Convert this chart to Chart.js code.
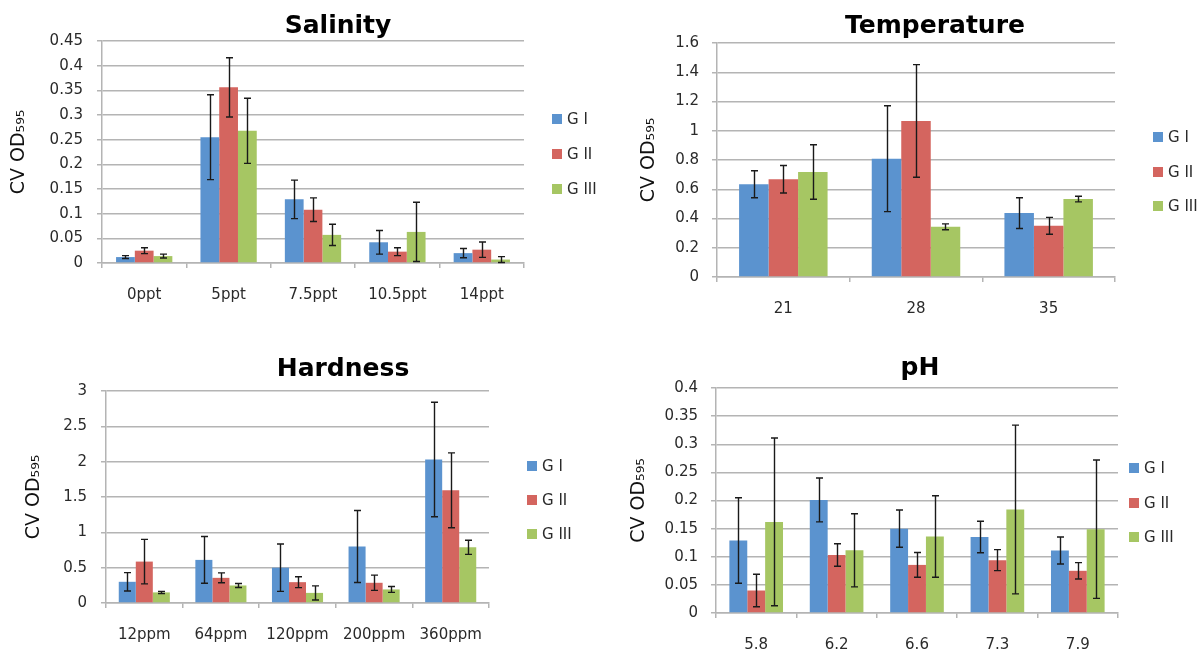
<!DOCTYPE html>
<html>
<head>
<meta charset="utf-8">
<script src="https://cdn.jsdelivr.net/npm/chart.js@4.4.1/dist/chart.umd.min.js"></script>
<style>
    body { margin: 0; background: #fff; width: 1204px; height: 655px; overflow: hidden; position: relative; }
    canvas { position: absolute; }
</style>
</head>
<body>
<canvas id="salinityChart" width="600" height="320" style="left:0;top:0"></canvas>
<canvas id="temperatureChart" width="604" height="320" style="left:600px;top:0"></canvas>
<canvas id="hardnessChart" width="600" height="325" style="left:0;top:330px"></canvas>
<canvas id="phChart" width="604" height="325" style="left:600px;top:330px"></canvas>
<script>
// Groups shared by all four panels
const groupLabels = ['G I', 'G II', 'G III'];
const groupColors = ['#5B93CF', '#D4655F', '#A6C663'];

// Salinity
const salinityLabels = ['0ppt', '5ppt', '7.5ppt', '10.5ppt', '14ppt'];
const salinityG1 = [0.012, 0.255, 0.129, 0.042, 0.020];
const salinityG2 = [0.025, 0.356, 0.108, 0.023, 0.027];
const salinityG3 = [0.014, 0.268, 0.057, 0.063, 0.007];
const salinityErrG1 = [0.003, 0.086, 0.039, 0.024, 0.0095];
const salinityErrG2 = [0.006, 0.060, 0.024, 0.008, 0.0155];
const salinityErrG3 = [0.004, 0.066, 0.0215, 0.060, 0.006];

// Temperature
const temperatureLabels = ['21', '28', '35'];
const temperatureG1 = [0.634, 0.809, 0.437];
const temperatureG2 = [0.668, 1.067, 0.350];
const temperatureG3 = [0.718, 0.343, 0.533];
const temperatureErrG1 = [0.092, 0.362, 0.105];
const temperatureErrG2 = [0.094, 0.385, 0.058];
const temperatureErrG3 = [0.186, 0.020, 0.019];

// Hardness
const hardnessLabels = ['12ppm', '64ppm', '120ppm', '200ppm', '360ppm'];
const hardnessG1 = [0.30, 0.61, 0.50, 0.80, 2.03];
const hardnessG2 = [0.586, 0.356, 0.295, 0.286, 1.594];
const hardnessG3 = [0.15, 0.248, 0.143, 0.192, 0.788];
const hardnessErrG1 = [0.13, 0.33, 0.335, 0.51, 0.81];
const hardnessErrG2 = [0.315, 0.07, 0.077, 0.108, 0.53];
const hardnessErrG3 = [0.015, 0.028, 0.10, 0.042, 0.10];

// pH
const phLabels = ['5.8', '6.2', '6.6', '7.3', '7.9'];
const phG1 = [0.129, 0.201, 0.150, 0.135, 0.111];
const phG2 = [0.040, 0.103, 0.0855, 0.094, 0.075];
const phG3 = [0.162, 0.1115, 0.136, 0.184, 0.149];
const phErrG1 = [0.076, 0.039, 0.033, 0.028, 0.024];
const phErrG2 = [0.029, 0.020, 0.022, 0.0186, 0.0145];
const phErrG3 = [0.149, 0.065, 0.0725, 0.150, 0.123];

const FONT = "'DejaVu Sans', sans-serif";
const gridColor = '#b4b4b4';
const textColor = '#2a2a2a';

/**
 * Error bars: vertical whiskers with caps, drawn from the y scale
 */
const errorBarPlugin = {
    id: 'errorBars',
    afterDatasetsDraw(chart) {
        const ctx = chart.ctx;
        const yScale = chart.scales.y;
        ctx.save();
        ctx.strokeStyle = '#1a1a1a';
        ctx.lineWidth = 1.4;
        chart.data.datasets.forEach((ds, i) => {
            const meta = chart.getDatasetMeta(i);
            meta.data.forEach((bar, j) => {
                const v = ds.data[j];
                const e = ds.errors[j];
                const yTop = yScale.getPixelForValue(v + e);
                const yBot = yScale.getPixelForValue(Math.max(v - e, 0));
                const x = Math.round(bar.x) + 0.5;
                ctx.beginPath();
                ctx.moveTo(x, yTop);
                ctx.lineTo(x, yBot);
                ctx.moveTo(x - 3.5, yTop);
                ctx.lineTo(x + 3.5, yTop);
                ctx.moveTo(x - 3.5, yBot);
                ctx.lineTo(x + 3.5, yBot);
                ctx.stroke();
            });
        });
        ctx.restore();
    }
};

/**
 * Panel title and the side legend (placed like the Excel original)
 */
const panelDecorPlugin = {
    id: 'panelDecor',
    afterDraw(chart, args, opts) {
        const ctx = chart.ctx;
        ctx.save();
        ctx.fillStyle = '#000';
        ctx.font = `bold 25px ${FONT}`;
        ctx.textAlign = 'center';
        ctx.textBaseline = 'alphabetic';
        ctx.fillText(opts.title, opts.titleX, opts.titleY);

        ctx.font = `15px ${FONT}`;
        ctx.textAlign = 'left';
        ctx.textBaseline = 'middle';
        chart.data.datasets.forEach((ds, i) => {
            const cy = opts.legendY[i];
            ctx.fillStyle = ds.backgroundColor;
            ctx.fillRect(opts.legendX, cy - 5, 10, 10);
            ctx.fillStyle = textColor;
            ctx.fillText(ds.label, opts.legendX + 15, cy + 1);
        });
        ctx.restore();
    }
};

/**
 * Build one grouped bar panel
 */
function buildPanel(id, cfg) {
    const canvas = document.getElementById(id);
    const ctx = canvas.getContext('2d');
    return new Chart(ctx, {
        type: 'bar',
        data: {
            labels: cfg.labels,
            datasets: cfg.series.map((vals, i) => ({
                label: groupLabels[i],
                data: vals,
                errors: cfg.errors[i],
                backgroundColor: groupColors[i],
                borderWidth: 0,
                categoryPercentage: 0.667,
                barPercentage: 1.0
            }))
        },
        options: {
            responsive: false,
            animation: false,
            layout: {
                padding: { left: 0, top: cfg.area.top, right: canvas.width - cfg.area.right, bottom: 0 }
            },
            plugins: {
                legend: { display: false },
                tooltip: { enabled: false },
                panelDecor: cfg.decor
            },
            scales: {
                x: {
                    grid: { drawOnChartArea: false, tickLength: 5, color: gridColor, lineWidth: 1.5 },
                    border: { color: gridColor, width: 1.5 },
                    ticks: { padding: 18, color: textColor, font: { family: FONT, size: 15 } },
                    afterFit: s => { s.height = canvas.height - cfg.area.bottom; }
                },
                y: {
                    min: 0,
                    max: cfg.max,
                    ticks: {
                        stepSize: cfg.step,
                        padding: cfg.tickPad,
                        color: textColor,
                        font: { family: FONT, size: 15 },
                        callback: v => String(+v.toFixed(3))
                    },
                    grid: { color: gridColor, lineWidth: 1.5, tickLength: 5 },
                    border: { color: gridColor, width: 1.5 },
                    title: {
                        display: true,
                        text: 'CV OD₅₉₅',
                        color: '#111',
                        font: { family: FONT, size: 19 },
                        padding: { top: cfg.titlePad, bottom: 0 }
                    },
                    afterFit: s => { s.width = cfg.area.left; }
                }
            }
        },
        plugins: [errorBarPlugin, panelDecorPlugin]
    });
}

document.addEventListener('DOMContentLoaded', function() {
    buildPanel('salinityChart', {
        labels: salinityLabels,
        series: [salinityG1, salinityG2, salinityG3],
        errors: [salinityErrG1, salinityErrG2, salinityErrG3],
        max: 0.45, step: 0.05, tickPad: 14, titlePad: 8,
        area: { left: 102, right: 524, top: 41, bottom: 263 },
        decor: { title: 'Salinity', titleX: 338, titleY: 33, legendX: 552, legendY: [119, 154, 189] }
    });

    buildPanel('temperatureChart', {
        labels: temperatureLabels,
        series: [temperatureG1, temperatureG2, temperatureG3],
        errors: [temperatureErrG1, temperatureErrG2, temperatureErrG3],
        max: 1.6, step: 0.2, tickPad: 13, titlePad: 38,
        area: { left: 117, right: 515, top: 43, bottom: 277 },
        decor: { title: 'Temperature', titleX: 335, titleY: 33, legendX: 553, legendY: [137, 172, 206] }
    });

    buildPanel('hardnessChart', {
        labels: hardnessLabels,
        series: [hardnessG1, hardnessG2, hardnessG3],
        errors: [hardnessErrG1, hardnessErrG2, hardnessErrG3],
        max: 3, step: 0.5, tickPad: 14, titlePad: 23,
        area: { left: 106, right: 489, top: 61, bottom: 273 },
        decor: { title: 'Hardness', titleX: 343, titleY: 46, legendX: 527, legendY: [136, 170, 204] }
    });

    buildPanel('phChart', {
        labels: phLabels,
        series: [phG1, phG2, phG3],
        errors: [phErrG1, phErrG2, phErrG3],
        max: 0.4, step: 0.05, tickPad: 13, titlePad: 28,
        area: { left: 116, right: 518, top: 58, bottom: 283 },
        decor: { title: 'pH', titleX: 320, titleY: 45, legendX: 529, legendY: [138, 173, 207] }
    });
});
</script>
</body>
</html>
